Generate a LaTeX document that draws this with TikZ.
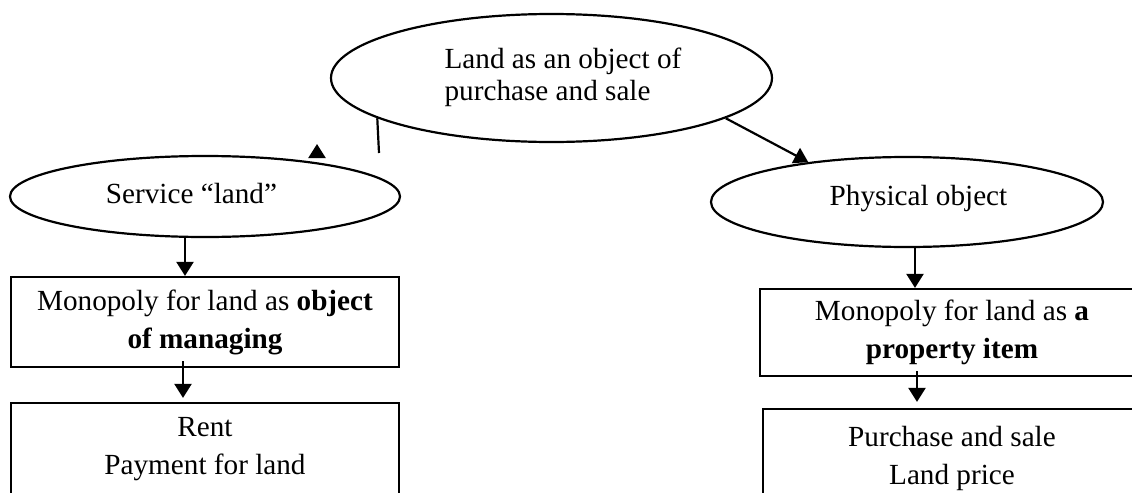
\documentclass[tikz,border=0pt]{standalone}
\usepackage{fontspec}
\setmainfont{Liberation Serif}
\usetikzlibrary{arrows.meta,shapes.geometric}
\tikzset{
  oval/.style={draw, ellipse, line width=1.1pt, inner sep=0pt},   % outline only, text is set apart
  otxt/.style={inner sep=0pt, align=left, font=\fontsize{14.6}{16}\selectfont},
  rbox/.style={draw, line width=1.1pt, inner sep=0pt, align=center,
    font=\fontsize{14.6}{19}\selectfont},
  arr/.style={black, line width=1.1pt, -{Triangle[length=7pt,width=8.5pt]}},
  stub/.style={black, line width=1.1pt},                          % line with no head
}

\begin{document}
\begin{tikzpicture}[x=0.5pt, y=-0.5pt]
  \useasboundingbox (0,0) rectangle (1132,493);
  \clip (0,0) rectangle (1132,493);
  % ellipses
  \node[oval, minimum width=220.5pt, minimum height=64pt] (land) at (551.5,78) {};
  \node[otxt] (landtxt) at (563,77) {Land as an object of\\purchase and sale};
  \node[oval, minimum width=195pt, minimum height=40.5pt] (svc) at (205,196.5) {};
  \node[otxt, anchor=base] (svctxt) at (191.5,203) {Service “land”};
  \node[oval, minimum width=196pt, minimum height=45pt] (phys) at (907,202) {};
  \node[otxt, anchor=base] (phystxt) at (918.5,205) {Physical object};
  % boxes
  \node[rbox, minimum width=194pt, minimum height=45pt] (mono) at (205,322)
    {Monopoly for land as \textbf{object}\\\textbf{of managing}};
  \node[rbox, minimum width=194pt, minimum height=46.5pt] (rent) at (205,449.5)
    {Rent\\Payment for land};
  \node[rbox, minimum width=192pt, minimum height=43.5pt] (prop) at (952,332.5)
    {Monopoly for land as \textbf{a}\\\textbf{property item}};
  \node[rbox, minimum width=189pt, minimum height=49pt] (price) at (952,458)
    {Purchase and sale\\Land price};
  % connectors
  \draw[arr] (land.-13) -- (phys.158);
  \coordinate (stubend) at (379,153);
  \draw[stub] (land.193) -- (stubend);
  \coordinate (orphan) at (317,158);
  \draw[arr] (orphan) -- ++(0,-14);
  \draw[arr] ([xshift=-10pt]svc.south) -- ([xshift=-10pt]mono.north);
  \draw[arr] ([xshift=-11pt,yshift=3.5pt]mono.south) -- ([xshift=-11pt,yshift=2pt]rent.north);
  \draw[arr] ([xshift=4pt]phys.south) -- ([xshift=4pt]phys.south |- prop.north);
  \draw[arr] ([xshift=-17.5pt,yshift=3pt]prop.south) -- ([xshift=-17.5pt,yshift=3pt]prop.south |- price.north);
\end{tikzpicture}
\end{document}
